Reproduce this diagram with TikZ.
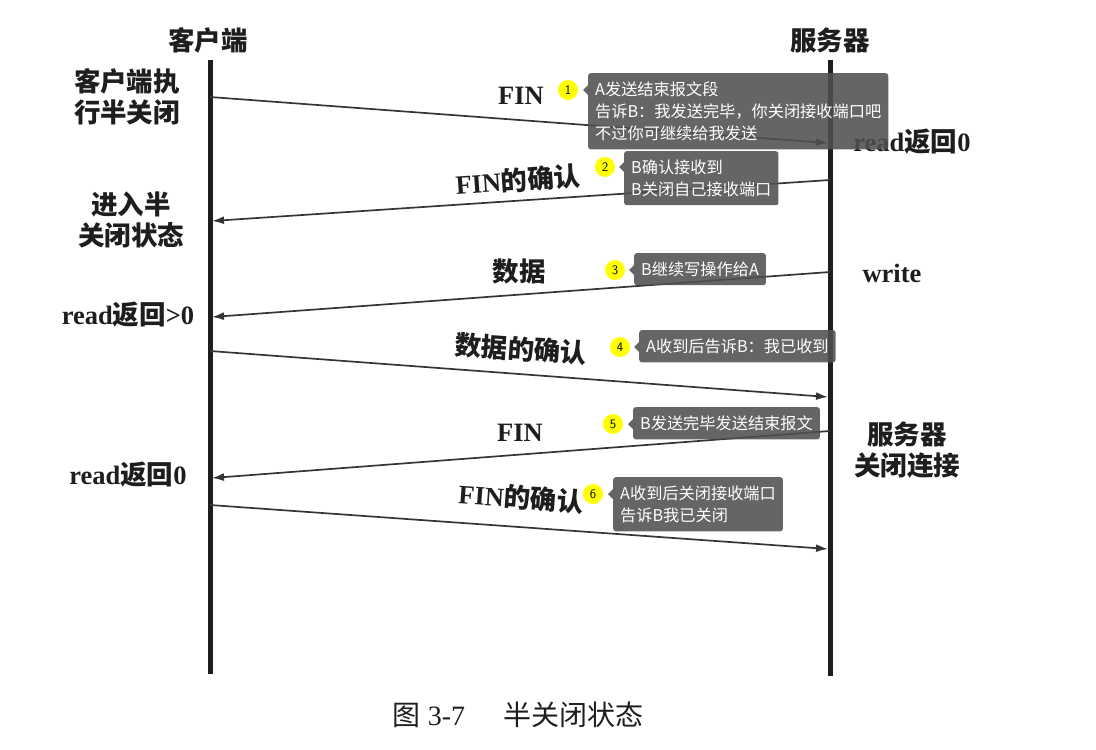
\documentclass[tikz,border=0pt]{standalone}
\usepackage{fontspec}
\setmainfont{Liberation Serif}
\newfontfamily\cjk{Noto Sans CJK SC}
\usetikzlibrary{arrows.meta, positioning, calc}

\definecolor{tipgray}{RGB}{80,80,80}
\definecolor{tipyellow}{RGB}{255,255,0}
\definecolor{inkblack}{RGB}{30,30,30}

\newcommand{\zh}[1]{{\cjk #1}}

\begin{document}
\begin{tikzpicture}[x=1pt, y=-1pt,
  lifeline/.style={line width=5pt, inkblack},
  msg/.style={line width=1.7pt, inkblack!90, -{Latex[length=12pt,width=8pt]}},
  lbl/.style={font=\fontsize{26.5}{31}\selectfont\bfseries, text=inkblack, align=center, inner sep=1pt},
  tipbox/.style={fill=tipgray, fill opacity=0.88, text opacity=1, text=white, rounded corners=2.5pt,
    font=\cjk\fontsize{16.2}{22}\selectfont, align=left, inner xsep=7pt, inner ysep=8.5pt, anchor=north west},
  tipnum/.style={circle, fill=tipyellow, inner sep=0pt, minimum size=20pt, font=\sffamily\fontsize{13}{13}\selectfont}
]
  \useasboundingbox (0,0) rectangle (1096,750);

  % the two ends of the connection
  \node[lbl] (client) at (208,40) {\zh{客户端}};
  \node[lbl] (server) at (830,40) {\zh{服务器}};
  \coordinate (cTop) at (210,60);  \coordinate (cBot) at (210,674);
  \coordinate (sTop) at (830,60);  \coordinate (sBot) at (830,676);
  \draw[lifeline] (cTop) -- (cBot);
  \draw[lifeline] (sTop) -- (sBot);

  % message end points
  \coordinate (c1) at (210,97);  \coordinate (s1) at (828,143);
  \coordinate (s2) at (830,180); \coordinate (c2) at (212,221);
  \coordinate (s3) at (830,272); \coordinate (c3) at (212,317);
  \coordinate (c4) at (210,351); \coordinate (s4) at (828,397);
  \coordinate (s5) at (830,431); \coordinate (c5) at (212,478);
  \coordinate (c6) at (210,505); \coordinate (s6) at (828,549);

  \draw[msg] (c1) -- (s1);
  \draw[msg] (s2) -- (c2);
  \draw[msg] (s3) -- (c3);
  \draw[msg] (c4) -- (s4);
  \draw[msg] (s5) -- (c5);
  \draw[msg] (c6) -- (s6);

  % message labels
  \node[lbl] (m1) at (521,96) {FIN};
  \node[lbl, rotate=4] (m2) at (518,180) {FIN\zh{的确认}};
  \node[lbl] (m3) at (519,271) {\zh{数据}};
  \node[lbl, rotate=-4] (m4) at (521,349) {\zh{数据的确认}};
  \node[lbl] (m5) at (520,433) {FIN};
  \node[lbl, rotate=-4] (m6) at (521,498) {FIN\zh{的确认}};

  % states beside the lines
  \node[lbl] (l1) at (127,97) {\zh{客户端执}\\\zh{行半关闭}};
  \node[lbl] (l2) at (131,220) {\zh{进入半}\\\zh{关闭状态}};
  \node[lbl] (l3) at (128,315) {read\zh{返回}>0};
  \node[lbl] (l4) at (128,475) {read\zh{返回}0};
  \node[lbl] (r1) at (912,142) {read\zh{返回}0};
  \node[lbl] (r2) at (892,273) {write};
  \node[lbl] (r3) at (907,450) {\zh{服务器}\\\zh{关闭连接}};

  \node[font=\fontsize{28}{30}\selectfont, text=inkblack] (cap) at (518,715) {\zh{图} 3-7\hspace{38pt}\zh{半关闭状态}};

  % notes
  \node[tipbox] (t1) at (588,73) {A发送结束报文段\\告诉B：我发送完毕，你关闭接收端口吧\\不过你可继续给我发送};
  \node[tipbox] (t2) at (624,151) {B确认接收到\\B关闭自己接收端口};
  \node[tipbox] (t3) at (634,253) {B继续写操作给A};
  \node[tipbox] (t4) at (639,330) {A收到后告诉B：我已收到};
  \node[tipbox] (t5) at (633,407) {B发送完毕发送结束报文};
  \node[tipbox] (t6) at (613,477) {A收到后关闭接收端口\\告诉B我已关闭};

  \node[tipnum] (n1) at (568,90) {1};
  \node[tipnum] (n2) at (605,167) {2};
  \node[tipnum] (n3) at (615,270) {3};
  \node[tipnum] (n4) at (620,347) {4};
  \node[tipnum] (n5) at (613,424) {5};
  \node[tipnum] (n6) at (593,494) {6};

  \foreach \i in {1,...,6}
    \fill[tipgray, fill opacity=0.88] ($(t\i.west |- n\i)+(0,-5)$) -- ++(-5,5) -- ++(5,5) -- cycle;
\end{tikzpicture}
\end{document}
